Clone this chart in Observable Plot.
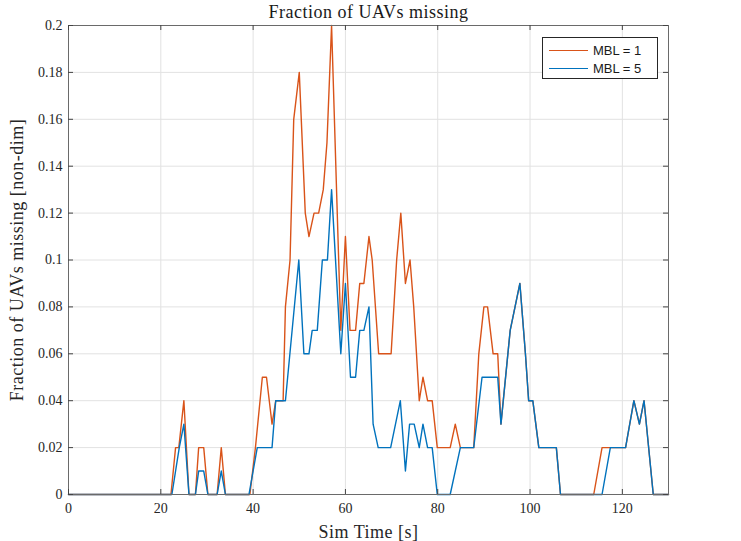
<!DOCTYPE html>
<html>
<head>
<meta charset="utf-8">
<script src="https://cdn.jsdelivr.net/npm/d3@7"></script>
<script src="https://cdn.jsdelivr.net/npm/@observablehq/plot@0.6"></script>
<style>
  html, body { margin: 0; padding: 0; background: #fff; }
  #wrap { position: relative; width: 741px; height: 541px; overflow: hidden; }
  #wrap svg g[aria-label="text"] text,
  #wrap svg g[aria-label="x-axis label"] text,
  #wrap svg g[aria-label="y-axis label"] text { letter-spacing: 0.5px; }
  #legend {
    position: absolute; left: 542px; top: 37px; width: 114px; height: 40px;
    border: 1px solid #262626; background: #fff;
    font-family: "Liberation Sans", Arial, sans-serif; font-size: 13px; color: #1a1a1a;
  }
  .row { position: absolute; left: 0; height: 18px; display: flex; align-items: center; }
  .sw { width: 39px; height: 0; margin-left: 6px; margin-right: 5px; }
</style>
</head>
<body>
<div id="wrap"></div>
<script>
// ---- data ----
const titleText = "Fraction of UAVs missing";
const xLabel = "Sim Time [s]";
const yLabel = "Fraction of UAVs missing [non-dim]";
const seriesNames = ["MBL = 1", "MBL = 5"];
const xTicks = [0, 20, 40, 60, 80, 100, 120];
const yTicks = [0, 0.02, 0.04, 0.06, 0.08, 0.1, 0.12, 0.14, 0.16, 0.18, 0.2];

const mbl1Time = [0, 22.2, 23.2, 23.9, 25, 26.1, 27.5, 28.2, 29.3, 30.2,
  32.2, 33.1, 34, 39.3, 40.5, 42, 42.9, 44.1, 44.9, 46.5,
  47, 48, 48.8, 50, 51.3, 52.1, 53.2, 54.2, 55.2, 56,
  57, 59, 60, 61, 62.2, 63.1, 64, 65.1, 65.8, 67.2,
  69.9, 71.1, 72, 73, 74, 74.8, 76, 76.8, 77.8, 78.8,
  79.9, 82.7, 83.8, 84.9, 87.8, 88.9, 90, 90.8, 92, 93,
  93.7, 95.7, 97.8, 99, 99.7, 100.6, 101.9, 105.7, 106.6, 113.8,
  115.6, 120.7, 122.5, 123.7, 124.7, 126.7, 130];
const mbl1Frac = [0, 0, 0.02, 0.02, 0.04, 0, 0, 0.02, 0.02, 0,
  0, 0.02, 0, 0, 0.02, 0.05, 0.05, 0.03, 0.04, 0.04,
  0.08, 0.10, 0.16, 0.18, 0.12, 0.11, 0.12, 0.12, 0.13, 0.15,
  0.20, 0.07, 0.11, 0.07, 0.07, 0.09, 0.09, 0.11, 0.10, 0.06,
  0.06, 0.10, 0.12, 0.09, 0.10, 0.08, 0.04, 0.05, 0.04, 0.04,
  0.02, 0.02, 0.03, 0.02, 0.02, 0.06, 0.08, 0.08, 0.06, 0.06,
  0.03, 0.07, 0.09, 0.06, 0.04, 0.04, 0.02, 0.02, 0, 0,
  0.02, 0.02, 0.04, 0.03, 0.04, 0, 0];

const mbl5Time = [0, 22.4, 24, 25, 26.1, 27.5, 28.2, 29.3, 30.2, 32.2,
  33.1, 34, 39.1, 40.9, 44.1, 44.9, 47, 49.9, 51, 52.1,
  52.8, 53.9, 55, 56.1, 57, 59, 60, 61.1, 62.2, 63.1,
  64, 65.1, 66, 67.1, 69.8, 71.9, 73, 73.9, 74.9, 76,
  76.8, 77.8, 78.8, 79.9, 82.7, 84.9, 87.8, 89.6, 93, 93.7,
  95.7, 97.8, 99, 99.7, 100.6, 101.9, 105.7, 106.6, 115.6, 117.4,
  120.7, 122.5, 123.7, 124.7, 126.7, 130];
const mbl5Frac = [0, 0, 0.02, 0.03, 0, 0, 0.01, 0.01, 0, 0,
  0.01, 0, 0, 0.02, 0.02, 0.04, 0.04, 0.10, 0.06, 0.06,
  0.07, 0.07, 0.10, 0.10, 0.13, 0.06, 0.09, 0.05, 0.05, 0.07,
  0.07, 0.08, 0.03, 0.02, 0.02, 0.04, 0.01, 0.03, 0.03, 0.02,
  0.03, 0.02, 0.02, 0, 0, 0.02, 0.02, 0.05, 0.05, 0.03,
  0.07, 0.09, 0.06, 0.04, 0.04, 0.02, 0.02, 0, 0, 0.02,
  0.02, 0.04, 0.03, 0.04, 0, 0];

const colors = ["#D95319", "#0072BD"];
const d1 = mbl1Time.map((t, i) => ({t, v: mbl1Frac[i]}));
const d5 = mbl5Time.map((t, i) => ({t, v: mbl5Frac[i]}));

const W = 741, H = 541, mL = 68, mR = 73, mT = 25, mB = 47;
const fw = W - mL - mR, fh = H - mT - mB, tk = 5;

const chart = Plot.plot({
  width: W, height: H,
  marginLeft: mL, marginRight: mR, marginTop: mT, marginBottom: mB,
  style: {fontFamily: "'Liberation Serif', 'Times New Roman', serif", fontSize: "14px", color: "#262626", background: "#fff"},
  x: {domain: [0, 130]},
  y: {domain: [0, 0.2]},
  marks: [
    Plot.gridX(xTicks, {stroke: "#e2e2e2", strokeOpacity: 1}),
    Plot.gridY(yTicks, {stroke: "#e2e2e2", strokeOpacity: 1}),
    Plot.line(d1, {x: "t", y: "v", stroke: colors[0], strokeWidth: 1.4}),
    Plot.line(d5, {x: "t", y: "v", stroke: colors[1], strokeWidth: 1.4}),
    Plot.frame({stroke: "#6a6a6a"}),
    Plot.ruleX(xTicks, {x: d => d, insetTop: fh - tk, stroke: "#444"}),
    Plot.ruleX(xTicks, {x: d => d, insetBottom: fh - tk, stroke: "#444"}),
    Plot.ruleY(yTicks, {y: d => d, insetRight: fw - tk, stroke: "#444"}),
    Plot.ruleY(yTicks, {y: d => d, insetLeft: fw - tk, stroke: "#444"}),
    Plot.axisX(xTicks, {tickSize: 0, tickPadding: 9, label: xLabel, labelAnchor: "center", labelArrow: "none", labelOffset: 43, fontSize: 14}),
    Plot.axisY(yTicks, {tickSize: 0, tickPadding: 6, tickFormat: d => String(Math.round(d * 100) / 100), label: yLabel, labelAnchor: "center", labelArrow: "none", labelOffset: 58, fontSize: 14}),
    Plot.text([titleText], {frameAnchor: "top", lineAnchor: "middle", dy: -13, fontSize: 18, fill: "#1a1a1a"})
  ]
});
document.getElementById("wrap").appendChild(chart);
chart.querySelectorAll('g[aria-label="x-axis label"] text, g[aria-label="y-axis label"] text').forEach(n => n.setAttribute("font-size", "18"));

// legend
const lg = document.createElement("div");
lg.id = "legend";
seriesNames.forEach((name, i) => {
  const r = document.createElement("div");
  r.className = "row";
  r.style.top = (3 + i * 18) + "px";
  const s = document.createElement("div");
  s.className = "sw";
  s.style.borderTop = "1.4px solid " + colors[i];
  const t = document.createElement("span");
  t.textContent = name;
  r.appendChild(s); r.appendChild(t);
  lg.appendChild(r);
});
document.getElementById("wrap").appendChild(lg);
</script>
</body>
</html>
